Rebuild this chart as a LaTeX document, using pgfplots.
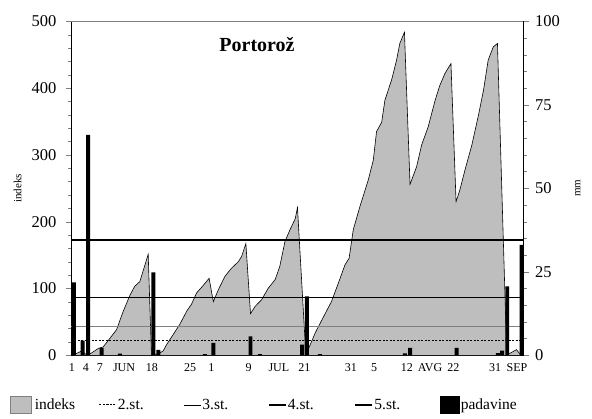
\documentclass[border=0pt]{standalone}
\usepackage{fontspec}
\setmainfont{Liberation Serif}
\usepackage{pgfplots}
\pgfplotsset{compat=1.18}
\usepackage{pgfplotstable}

\definecolor{areagray}{RGB}{190,190,190}
\definecolor{linegray}{RGB}{128,128,128}

% indeks: day after 1 June, value
\pgfplotstableread{
d v
0.3 0
2.1 6
3.2 0
4.2 3
5.7 10
6.7 12
8.5 28
9.6 38
11 65
12.5 90
13.5 103
14.6 110
16.4 151
17.1 0
18.6 2
19.6 6
20.4 16
21.8 31
23.2 46
24.7 66
25.7 76
26.8 93
28.2 104
29.5 115
30.4 80
31.5 98
32.9 118
34.3 130
35.8 140
36.5 148
37.4 167
38.4 62
39.4 73
40.8 83
42.2 100
43.7 113
44.7 133
45.8 170
46.9 188
48.0 204
48.5 221
50.3 0
52.3 33
54 56
55.8 80
57.3 108
58.7 135
59.6 145
60.5 188
61.9 222
63.7 262
64.8 292
65.5 335
66.6 349
67.3 382
68.8 414
69.8 442
70.5 467
71.5 484
72.7 256
74.1 282
75.2 315
76.6 342
78.1 382
79.1 404
80.2 422
81.5 437
82.6 230
83.4 247
84.5 277
86 315
87.4 359
88.5 397
89.5 442
90.6 462
91.5 467
93.5 0
95.6 8
96.5 0
}\indeks

% padavine (mm)
\pgfplotstableread{
d mm
0.43 21.8
2.3 4.3
3.5 66
6.4 2.1
10.3 0.4
17.5 24.8
18.6 1.5
28.6 0.3
30.4 3.6
38.4 5.6
40.4 0.3
49.5 3.1
50.5 17.6
53.3 0.3
71.6 0.5
72.7 2.1
82.7 2.1
91.6 0.6
92.5 1.3
93.6 20.6
96.7 33
}\padavine

\begin{document}
\begin{tikzpicture}
\path[use as bounding box] (-71pt,-63pt) rectangle (521pt,355pt);
\begin{axis}[
  scale only axis, width=452.5pt, height=333.5pt,
  xmin=-0.2, xmax=97.1, ymin=0, ymax=500,
  axis x line*=bottom, axis y line*=left,
  axis line style={line width=0.8pt},
  tick align=outside, major tick length=5pt, minor tick length=3pt,
  ytick={0,100,...,500}, minor y tick num=4,
  xtick={0,3,6,11.2,17.2,25.4,30,38,44.5,50,60,65,72,77,82,91,95.7},
  xticklabels={1,4,7,JUN,18,25,1,9,JUL,21,31,5,12,AVG,22,31,SEP},
  xtick style={draw=none},
  x tick label style={font=\fontsize{12}{13}\selectfont},
  y tick label style={font=\fontsize{16.5}{18}\selectfont, xshift=-6pt},
  /pgf/number format/assume math mode=true,
  ylabel={indeks},
  ylabel style={font=\fontsize{11}{12}\selectfont, at={(axis description cs:-0.118,0.5)}, anchor=center},
  clip=false,
  legend columns=6,
  legend style={draw=none, fill=none, at={(axis description cs:-0.141,-0.148)}, anchor=west,
    font=\fontsize{15.5}{16}\selectfont, nodes={inner sep=1pt},
    /tikz/every even column/.append style={column sep=17pt}},
]
\addplot[fill=areagray, draw=none,
  legend image code/.code={\draw[fill=areagray, draw=linegray] (0pt,-8pt) rectangle (21pt,9pt);}]
  table[x=d, y=v] {\indeks} \closedcycle;
\addlegendentry{\makebox[48pt][l]{\hspace{2pt}indeks}}
\addplot[black, line width=0.6pt, forget plot] table[x=d, y=v] {\indeks};
\addplot[black, line width=1pt, dash pattern=on 2pt off 1.5pt] coordinates {(-0.2,21.5) (97.1,21.5)};
\addlegendentry{\makebox[48pt][l]{2.st.}}
\addplot[linegray, line width=1.1pt,
  legend image code/.code={\draw[black, line width=0.6pt] (0pt,0pt) -- (17pt,0pt);}]
  coordinates {(-0.2,43) (97.1,43)};
\addlegendentry{\makebox[48pt][l]{3.st.}}
\addplot[black, line width=1.4pt] coordinates {(-0.2,86) (97.1,86)};
\addlegendentry{\makebox[48pt][l]{4.st.}}
\addplot[black, line width=2.4pt] coordinates {(-0.2,172) (97.1,172)};
\addlegendentry{\makebox[48pt][l]{5.st.}}
\addlegendimage{legend image code/.code={\fill[black] (0pt,-8pt) rectangle (19pt,9pt);}}
\addlegendentry{padavine}
\draw[linegray, line width=1.2pt] (rel axis cs:0,1) -- (rel axis cs:1,1);
\node[font=\bfseries\fontsize{20}{22}\selectfont] at (axis cs:39.8,465) {Portorož};
\end{axis}
\begin{axis}[
  scale only axis, width=452.5pt, height=333.5pt,
  xmin=-0.2, xmax=97.1, ymin=0, ymax=100,
  axis x line=none, axis y line*=right,
  axis line style={line width=0.8pt},
  tick align=outside, major tick length=5pt, minor tick length=3pt,
  ytick={0,25,...,100}, minor y tick num=4,
  y tick label style={font=\fontsize{16.5}{18}\selectfont, xshift=3pt},
  /pgf/number format/assume math mode=true,
  ylabel={mm},
  ylabel style={font=\fontsize{11}{12}\selectfont, at={(axis description cs:1.12,0.5)}, anchor=center},
]
\addplot[ybar, bar width=0.85, bar shift=0pt, fill=black, draw=none] table[x=d, y=mm] {\padavine};
\end{axis}
\end{tikzpicture}
\end{document}
